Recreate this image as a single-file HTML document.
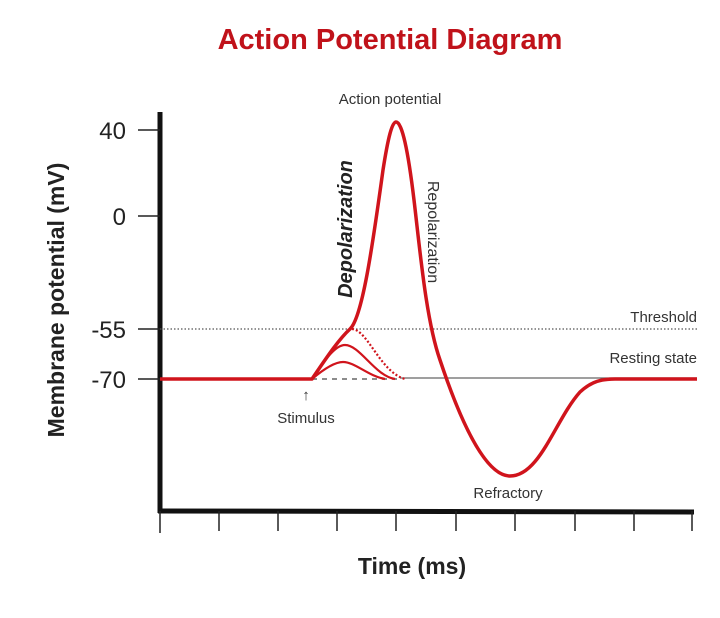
<!DOCTYPE html>
<html><head><style>body{margin:0;background:#fff}svg{display:block}</style></head><body>
<svg width="720" height="618" viewBox="0 0 720 618" xmlns="http://www.w3.org/2000/svg" font-family="Liberation Sans, sans-serif">
<text x="390" y="49" text-anchor="middle" font-size="29" font-weight="bold" fill="#c0121a">Action Potential Diagram</text>
<line x1="160" y1="112" x2="160" y2="513" stroke="#111" stroke-width="5"/>
<line x1="158" y1="511" x2="694" y2="512" stroke="#111" stroke-width="5"/>
<g stroke="#222" stroke-width="1.5">
<line x1="160" y1="511" x2="160" y2="533"/><line x1="219" y1="511" x2="219" y2="531"/><line x1="278" y1="511" x2="278" y2="531"/><line x1="337" y1="511" x2="337" y2="531"/><line x1="396" y1="511" x2="396" y2="531"/><line x1="456" y1="511" x2="456" y2="531"/><line x1="515" y1="511" x2="515" y2="531"/><line x1="575" y1="511" x2="575" y2="531"/><line x1="634" y1="511" x2="634" y2="531"/><line x1="692" y1="511" x2="692" y2="531"/>
<line x1="138" y1="130" x2="160" y2="130"/><line x1="138" y1="216" x2="160" y2="216"/><line x1="138" y1="329" x2="160" y2="329"/><line x1="138" y1="379" x2="160" y2="379"/>
</g>
<g font-size="24" fill="#222" text-anchor="end">
<text x="126" y="139">40</text><text x="126" y="225">0</text><text x="126" y="338">-55</text><text x="126" y="388">-70</text>
</g>
<text transform="translate(64,300) rotate(-90)" text-anchor="middle" font-size="23" font-weight="bold" fill="#222">Membrane potential (mV)</text>
<text x="412" y="574" text-anchor="middle" font-size="23" font-weight="bold" fill="#222">Time (ms)</text>
<line x1="160" y1="329" x2="697" y2="329" stroke="#555" stroke-width="1.2" stroke-dasharray="1.5,2"/>
<text x="697" y="322" text-anchor="end" font-size="15" fill="#333">Threshold</text>
<text x="697" y="363" text-anchor="end" font-size="15" fill="#333">Resting state</text>
<line x1="312" y1="379" x2="400" y2="379" stroke="#666" stroke-width="1.5" stroke-dasharray="5,5"/>
<line x1="400" y1="378" x2="697" y2="378" stroke="#666" stroke-width="1.2"/>
<g fill="none" stroke="#d0141c" stroke-width="2.2">
<path d="M312,379 C325,368 335,362 343,362 C355,362 368,376 385,379"/>
<path d="M312,379 C325,360 335,345 345,345 C360,345 375,376 395,379"/>
<path d="M352,329 C368,330 380,372 405,379" stroke-dasharray="2,2"/>
</g>
<path d="M160,379 L312,379 C325,360 338,340 350,329 C362,318 372,250 383,170 C388,138 392,122 396,122 C402,122 408,150 414,200 C420,250 426,320 440,360 C460,420 485,476 510,476 C540,476 555,420 580,392 C592,381 602,379 615,379 L697,379" fill="none" stroke="#d0141c" stroke-width="3.5" stroke-linejoin="round"/>
<text x="390" y="104" text-anchor="middle" font-size="15" fill="#333">Action potential</text>
<text transform="translate(352,229) rotate(-90)" text-anchor="middle" font-size="20" font-weight="bold" font-style="italic" fill="#222">Depolarization</text>
<text transform="translate(428,232) rotate(90)" text-anchor="middle" font-size="16" fill="#333">Repolarization</text>
<text x="306" y="400" text-anchor="middle" font-size="15" fill="#333">↑</text>
<text x="306" y="423" text-anchor="middle" font-size="15" fill="#333">Stimulus</text>
<text x="508" y="498" text-anchor="middle" font-size="15" fill="#333">Refractory</text>
</svg>
</body></html>
